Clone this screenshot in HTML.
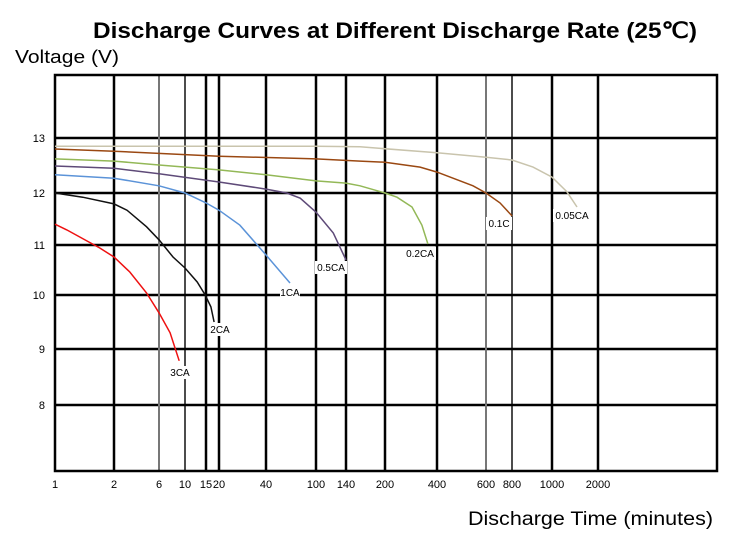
<!DOCTYPE html>
<html><head><meta charset="utf-8"><style>
body{margin:0;background:#fff;width:738px;height:538px;overflow:hidden;font-family:"Liberation Sans",sans-serif}
</style></head><body>
<svg width="738" height="538">
<text x="93" y="38" font-size="22" font-weight="bold" textLength="604" lengthAdjust="spacingAndGlyphs">Discharge Curves at Different Discharge Rate (25℃)</text>
<text x="15" y="63" font-size="18" textLength="104" lengthAdjust="spacingAndGlyphs">Voltage (V)</text>
<text x="468" y="525" font-size="19" textLength="245" lengthAdjust="spacingAndGlyphs">Discharge Time (minutes)</text>
<g id="grid"></g><g id="curves"></g><g id="labels"></g>
</svg>
<script>
const xTicks=[1,2,6,10,15,20,40,100,140,200,400,600,800,1000,2000];
const xTickLabels=["1","2","6","10","15","20","40","100","140","200","400","600","800","1000","2000"];
const yTicks=[13,12,11,10,9,8];
const yTickLabels=["13","12","11","10","9","8"];
const seriesNames=["3CA","2CA","1CA","0.5CA","0.2CA","0.1C","0.05CA"];
const t3CA=[1,1.2,1.76,2,3.4,4.9,6,7.7,9.1];
const v3CA=[11.4,11.29,10.94,10.76,10.46,10.04,9.67,9.3,8.79];
const t2CA=[1,1.47,2,3.16,4.9,6,8.15,10,12.9,14.8,16.9,18.1];
const v2CA=[12,11.92,11.79,11.67,11.35,11.1,10.76,10.54,10.26,10,9.78,9.5];
const t1CA=[1,2,6,10,15,20,28.9,40,68.8];
const v1CA=[12.33,12.27,12.13,12,11.81,11.67,11.38,10.8,10.24];
const t05CA=[1,2,6,20,40,65,81,100,123,140];
const v05CA=[12.49,12.45,12.35,12.2,12.07,12,11.9,11.63,11.23,10.7];
const t02CA=[1,2,6,20,40,100,140,161.5,200,246,304,342,365];
const v02CA=[12.62,12.58,12.51,12.42,12.33,12.22,12.18,12.13,12,11.92,11.73,11.38,11.02];
const t01C=[1,2,20,100,161.5,200,335,400,547,600,708,800];
const v01C=[12.8,12.76,12.67,12.62,12.58,12.56,12.47,12.38,12.13,12,11.81,11.56];
const t005CA=[1,100,161.5,400,600,800,905,1000,1326,1543];
const v005CA=[12.85,12.85,12.84,12.73,12.65,12.6,12.47,12.29,12.02,11.73];

const xPix=[55,114,159,185,206,219,266,316,346,385,437,486,512,552,598];
const yPix=[138,193,245,295,349,405];
function interp(v,vals,pix){
  for(let i=0;i<vals.length-1;i++){
    const a=vals[i],b=vals[i+1];
    if((v-a)*(v-b)<=0){return pix[i]+(pix[i+1]-pix[i])*(v-a)/(b-a);}
  }
  const n=vals.length-1;
  return pix[n]+(pix[n]-pix[n-1])*(v-vals[n])/(vals[n]-vals[n-1]);
}
const X=t=>interp(t,xTicks,xPix);
const Y=v=>interp(v,yTicks,yPix);
const NS="http://www.w3.org/2000/svg";
function mk(tag,attrs,parent){const e=document.createElementNS(NS,tag);for(const k in attrs)e.setAttribute(k,attrs[k]);parent.appendChild(e);return e;}
const grid=document.getElementById('grid');
const L=55,R=717,T=75,B=471;
yTicks.forEach((v,i)=>{
  const l=mk('line',{x1:L,x2:R,y1:Y(v),y2:Y(v),stroke:'#000','stroke-width':2.5},grid);
  
  
  const t=mk('text',{x:45,y:Y(v)+4,'text-anchor':'end','font-size':11},grid);
  t.textContent=yTickLabels[i];
  
  
});
xTicks.forEach((v,i)=>{
  let c='#000',w=2.5;
  if(v===6||v===600){c='#777';w=2;}
  if(v===10||v===800){w=1.4;}
  if(i>0){
    const l=mk('line',{x1:X(v),x2:X(v),y1:T,y2:B,stroke:c,'stroke-width':w},grid);
    
    
  }
  const t=mk('text',{x:X(v),y:488,'text-anchor':'middle','font-size':11},grid);
  t.textContent=xTickLabels[i];
  
  
});
const border=mk('rect',{x:L,y:T,width:R-L,height:B-T,fill:'none',stroke:'#000','stroke-width':2.5},grid);



const series=[[t3CA,v3CA,'#ee1111'],[t2CA,v2CA,'#111'],[t1CA,v1CA,'#5b93d8'],[t05CA,v05CA,'#5e4a78'],[t02CA,v02CA,'#93b857'],[t01C,v01C,'#9a4812'],[t005CA,v005CA,'#c9c4ad']];
const curves=document.getElementById('curves');
const labels=document.getElementById('labels');
const labelPos=[[180,376],[220,333],[290,296],[331,271],[420,257],[499,227],[572,219]];
series.forEach((s,i)=>{
  const d=s[0].map((t,j)=>(j?'L':'M')+X(t).toFixed(1)+','+Y(s[1][j]).toFixed(1)).join(' ');
  const p=mk('path',{d:d,fill:'none',stroke:s[2],'stroke-width':1.5},curves);
  
  
  const [lx,ly]=labelPos[i];
  const w=seriesNames[i].length*6+2;
  const r=mk('rect',{x:lx-w/2,y:ly-10,width:w,height:13,fill:'#fff'},labels);
  
  
  const t=mk('text',{x:lx,y:ly,'text-anchor':'middle','font-size':10},labels);
  t.textContent=seriesNames[i];
  
  
});
</script>
</body></html>
